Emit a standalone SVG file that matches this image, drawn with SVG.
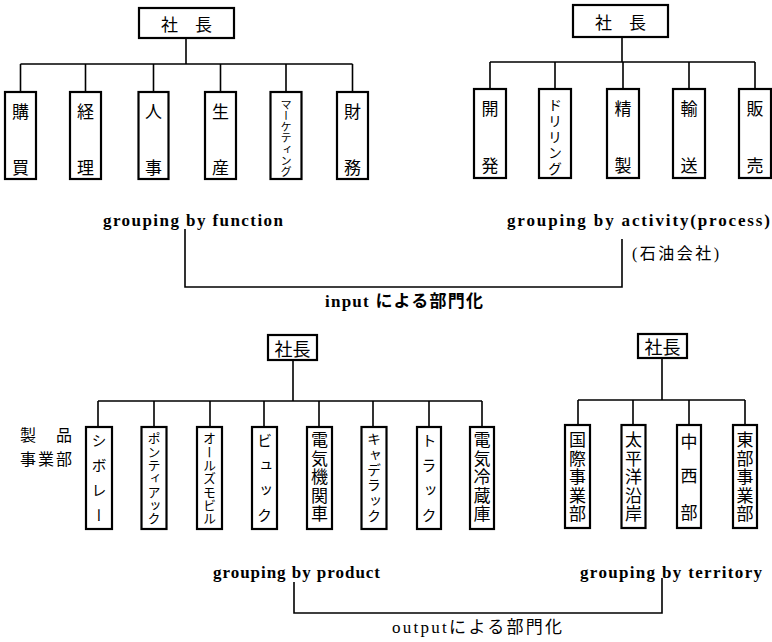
<svg xmlns="http://www.w3.org/2000/svg" width="772" height="642" viewBox="0 0 772 642">
<style>
.box{fill:#fff;stroke:#000;stroke-width:2.2}
.ln{fill:none;stroke:#000;stroke-width:1.6}
.jp{font-family:"Noto Sans CJK JP","Noto Sans",sans-serif;fill:#000}
.c{text-anchor:middle;dominant-baseline:central}
.v{writing-mode:vertical-rl;text-anchor:start}
.lat{font-family:"Liberation Serif","Noto Sans CJK JP",serif;font-weight:bold;fill:#000}
.reg{font-weight:normal}
</style>
<rect width="772" height="642" fill="#fff"/>
<g id="connectors">
  <path class="ln" d="M186,38V64M20.5,64H352.5M20.5,64V92M85.5,64V92M153.5,64V92M220.5,64V92M286,64V92M352.5,64V92"/>
  <path class="ln" d="M622,37V62M490,62H755M490,62V89M555,62V89M623,62V89M689,62V89M755,62V89"/>
  <path class="ln" d="M185,229V287H622V239"/>
  <path class="ln" d="M293,360V401M98,401H482M98,401V427M154,401V427M210,401V427M264,401V427M319,401V427M373,401V427M429,401V427M482,401V427"/>
  <path class="ln" d="M662,358V400M578,400H745M578,400V425M633,400V425M689,400V425M745,400V425"/>
  <path class="ln" d="M294,582V613H662V578"/>
</g>

<g id="pres1"><rect class="box" x="139" y="8" width="95" height="30"/><text class="jp c" x="186.5" y="23" font-size="17">社　長</text></g>
<g id="kobai"><rect class="box" x="5" y="92" width="31" height="87"/><text class="jp c" x="20.5" y="110" font-size="17">購</text><text class="jp c" x="20.5" y="166" font-size="17">買</text></g>
<g id="keiri"><rect class="box" x="70" y="92" width="31" height="87"/><text class="jp c" x="85.5" y="110" font-size="17">経</text><text class="jp c" x="85.5" y="166" font-size="17">理</text></g>
<g id="jinji"><rect class="box" x="138.5" y="92" width="30" height="87"/><text class="jp c" x="153.5" y="110" font-size="17">人</text><text class="jp c" x="153.5" y="166" font-size="17">事</text></g>
<g id="seisan"><rect class="box" x="205" y="92" width="31" height="87"/><text class="jp c" x="220.5" y="110" font-size="17">生</text><text class="jp c" x="220.5" y="166" font-size="17">産</text></g>
<g id="marketing"><rect class="box" x="270.5" y="92" width="31" height="87"/><text class="jp v" x="286" y="99" font-size="11.2">マーケティング</text></g>
<g id="zaimu"><rect class="box" x="337" y="92" width="31" height="87"/><text class="jp c" x="352.5" y="110" font-size="17">財</text><text class="jp c" x="352.5" y="166" font-size="17">務</text></g>

<g id="pres2"><rect class="box" x="573" y="5" width="95" height="32"/><text class="jp c" x="620.5" y="21" font-size="17">社　長</text></g>
<g id="kaihatsu"><rect class="box" x="474" y="89" width="32" height="89"/><text class="jp c" x="490" y="107" font-size="17">開</text><text class="jp c" x="490" y="164" font-size="17">発</text></g>
<g id="drilling"><rect class="box" x="539" y="89" width="32" height="89"/><text class="jp v" x="555" y="98" font-size="14" letter-spacing="2">ドリリング</text></g>
<g id="seisei"><rect class="box" x="607" y="89" width="32" height="89"/><text class="jp c" x="623" y="107" font-size="17">精</text><text class="jp c" x="623" y="164" font-size="17">製</text></g>
<g id="yuso"><rect class="box" x="673" y="89" width="32" height="89"/><text class="jp c" x="689" y="107" font-size="17">輸</text><text class="jp c" x="689" y="164" font-size="17">送</text></g>
<g id="hanbai"><rect class="box" x="739" y="89" width="32" height="89"/><text class="jp c" x="755" y="107" font-size="17">販</text><text class="jp c" x="755" y="164" font-size="17">売</text></g>

<g id="labels-top">
  <text class="lat" x="103" y="226" font-size="17" textLength="180" lengthAdjust="spacing">grouping by function</text>
  <text class="lat" x="507" y="226" font-size="17" textLength="263" lengthAdjust="spacing">grouping by activity(process)</text>
  <text class="lat reg" x="632" y="259" font-size="16" textLength="87" lengthAdjust="spacing">(石油会社)</text>
  <text class="lat" x="325" y="307" font-size="17" textLength="158" lengthAdjust="spacing">input による部門化</text>
</g>

<g id="pres3"><rect class="box" x="268" y="335" width="49" height="25"/><text class="jp c" x="292.5" y="347.5" font-size="18">社長</text></g>
<g id="seihin-label"><text class="jp" x="20" y="441" font-size="16" textLength="52" lengthAdjust="spacing">製　品</text><text class="jp" x="20" y="465" font-size="16" textLength="52" lengthAdjust="spacing">事業部</text></g>
<g id="chevrolet"><rect class="box" x="86" y="427" width="26" height="102"/><text class="jp v" x="99" y="433" font-size="15" letter-spacing="10">シボレー</text></g>
<g id="pontiac"><rect class="box" x="141.5" y="427" width="25" height="102"/><text class="jp v" x="154" y="432" font-size="13" letter-spacing="0.3">ポンティアック</text></g>
<g id="oldsmobile"><rect class="box" x="197" y="427" width="25" height="102"/><text class="jp v" x="209.5" y="432" font-size="13" letter-spacing="0.3">オールズモビル</text></g>
<g id="buick"><rect class="box" x="252" y="427" width="25" height="102"/><text class="jp v" x="264.5" y="433" font-size="15" letter-spacing="10">ビュック</text></g>
<g id="locomotive"><rect class="box" x="307" y="427" width="25" height="102"/><text class="jp v" x="319.5" y="431" font-size="17" letter-spacing="1.6">電気機関車</text></g>
<g id="cadillac"><rect class="box" x="361.5" y="427" width="25" height="102"/><text class="jp v" x="374" y="432" font-size="14" letter-spacing="1.3">キャデラック</text></g>
<g id="truck"><rect class="box" x="417" y="427" width="24" height="102"/><text class="jp v" x="429" y="433" font-size="15" letter-spacing="10">トラック</text></g>
<g id="fridge"><rect class="box" x="470" y="427" width="24" height="102"/><text class="jp v" x="482" y="431" font-size="17" letter-spacing="1.6">電気冷蔵庫</text></g>

<g id="pres4"><rect class="box" x="638" y="334" width="49" height="24"/><text class="jp c" x="662.5" y="346" font-size="18">社長</text></g>
<g id="intl"><rect class="box" x="565" y="425" width="25" height="103"/><text class="jp v" x="577.5" y="431" font-size="17" letter-spacing="1.6">国際事業部</text></g>
<g id="pacific"><rect class="box" x="621.5" y="425" width="24" height="103"/><text class="jp v" x="633.5" y="431" font-size="17" letter-spacing="1.6">太平洋沿岸</text></g>
<g id="midwest"><rect class="box" x="677" y="425" width="24" height="103"/><text class="jp c" x="689" y="440" font-size="17">中</text><text class="jp c" x="689" y="474" font-size="17">西</text><text class="jp c" x="689" y="511" font-size="17">部</text></g>
<g id="east"><rect class="box" x="733" y="425" width="24" height="103"/><text class="jp v" x="745" y="431" font-size="17" letter-spacing="1.6">東部事業部</text></g>

<g id="labels-bottom">
  <text class="lat" x="213" y="578" font-size="17" textLength="167" lengthAdjust="spacing">grouping by product</text>
  <text class="lat" x="580" y="578" font-size="17" textLength="182" lengthAdjust="spacing">grouping by territory</text>
  <text class="lat reg" x="392" y="633" font-size="17" textLength="170" lengthAdjust="spacing">outputによる部門化</text>
</g>
</svg>
